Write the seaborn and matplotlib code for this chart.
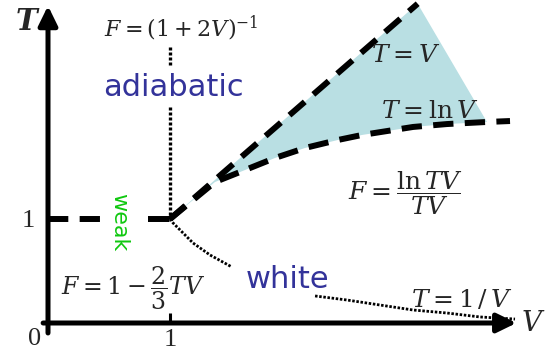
import numpy as np
import pandas as pd
import matplotlib
matplotlib.use("Agg")
import matplotlib.pyplot as plt
import seaborn as sns

# ---- data (schematic, in V / T units) ----
upper_V = [1.0, 3.03]                       # T = V boundary
upper_T = [1.0, 3.07]
lower_V = [1.0, 1.369, 1.615, 1.861, 2.107, 2.377, 2.574, 2.992, 3.270, 3.598, 3.787]   # T = ln V boundary
lower_T = [1.0, 1.356, 1.471, 1.587, 1.683, 1.760, 1.808, 1.885, 1.913, 1.933, 1.942]
inv_V_a = [1.0, 1.025, 1.189, 1.328, 1.508]  # T = 1/V (dotted), part before "white"
inv_T_a = [1.0, 0.962, 0.769, 0.654, 0.538]
inv_V_b = [2.189, 2.451, 2.721, 2.992, 3.270, 3.541, 3.828]
inv_T_b = [0.260, 0.221, 0.173, 0.125, 0.096, 0.058, 0.038]
adiab_T_a = [2.654, 2.481]                   # vertical dotted line V = 1
adiab_T_b = [2.077, 1.0]
weak_V_a = [0.0, 0.45]                       # horizontal dashed line T = 1
weak_V_b = [0.82, 1.0]
fill_corner = (3.598, 1.933)

sns.set_theme(style="white")
plt.rcParams["mathtext.fontset"] = "dejavuserif"
plt.rcParams["font.family"] = ["DejaVu Sans"]

fig = plt.figure(figsize=(5.48, 3.55), dpi=100)
ax = fig.add_axes([0, 0, 1, 1])
ax.set_xlim(-48 / 122, 500 / 122)
ax.set_ylim(-32 / 104, 323 / 104)
ax.axis("off")

# shaded region between T=V and T=lnV
up_pts = np.linspace(upper_V[0], upper_V[1], 20)
poly_x = list(up_pts) + [fill_corner[0]] + lower_V[:10][::-1]
poly_y = list(np.interp(up_pts, upper_V, upper_T)) + [fill_corner[1]] + lower_T[:10][::-1]
ax.fill(poly_x, poly_y, color="#b9dfe3", lw=0, zorder=1)

dash = (0, (3.4, 1.9))
dot = (0, (0.9, 0.6))
common = dict(estimator=None, sort=False, color="black", ax=ax, legend=False)

sns.lineplot(x=upper_V, y=upper_T, lw=4.3, linestyle=dash, zorder=3, **common)
sns.lineplot(x=lower_V, y=lower_T, lw=4.3, linestyle=dash, zorder=3, **common)
sns.lineplot(x=weak_V_a, y=[1, 1], lw=4.3, linestyle=dash, zorder=3, **common)
sns.lineplot(x=weak_V_b, y=[1, 1], lw=4.3, linestyle=(0, (3.6, 1)), zorder=3, **common)
sns.lineplot(x=[1, 1], y=adiab_T_a, lw=2.4, linestyle=dot, zorder=2, **common)
sns.lineplot(x=[1, 1], y=adiab_T_b, lw=2.4, linestyle=dot, zorder=2, **common)
sns.lineplot(x=inv_V_a, y=inv_T_a, lw=2.0, linestyle=dot, zorder=2, **common)
sns.lineplot(x=inv_V_b, y=inv_T_b, lw=2.0, linestyle=dot, zorder=2, **common)

# axes with arrows
arrow = dict(arrowstyle="-|>,head_length=0.45,head_width=0.22",
             lw=3.6, color="black", mutation_scale=26, shrinkA=0, shrinkB=0)
ax.annotate("", xy=(0, 3.05), xytext=(0, -0.096), arrowprops=arrow, zorder=4)
ax.annotate("", xy=(3.84, 0), xytext=(-0.04, 0), arrowprops=arrow, zorder=4)
ax.plot([1, 1], [0, 0.096], color="black", lw=2.2, solid_capstyle="butt", zorder=4)

serif = "Liberation Serif"
ax.text(-0.175, 2.9, "T", fontsize=21, family="DejaVu Serif", style="italic",
        weight="bold", ha="center", va="center")
ax.text(3.975, 0.0, "$V$", fontsize=20, ha="center", va="center")
ax.text(-0.107, -0.15, "0", fontsize=19, family=serif, ha="center", va="center")
ax.text(1.0, -0.16, "1", fontsize=19, family=serif, ha="center", va="center")
ax.text(-0.164, 0.976, "1", fontsize=19, family=serif, ha="center", va="center")

ax.text(1.09, 2.83, "$F=(1+2V)^{-1}$", fontsize=16, ha="center", va="center")
ax.text(1.025, 2.18, "adiabatic", fontsize=22, color="#33339a", ha="center", va="baseline")
ax.text(1.965, 0.336, "white", fontsize=22, color="#33339a", ha="center", va="baseline")
ax.text(0.582, 0.97, "weak", fontsize=16, color="#10c810", rotation=-90,
        ha="center", va="center")
ax.text(2.93, 2.58, "$T=V$", fontsize=18, ha="center", va="center", zorder=5)
ax.text(3.13, 2.04, r"$T=\ln V$", fontsize=18, ha="center", va="center", zorder=5)
ax.text(2.93, 1.25, r"$F=\dfrac{\ln TV}{TV}$", fontsize=18, ha="center", va="center")
ax.text(0.70, 0.33, r"$F=1-\dfrac{2}{3}TV$", fontsize=17, ha="center", va="center")
ax.text(3.39, 0.22, r"$T=1\,/\,V$", fontsize=18, ha="center", va="center")

fig.savefig("out.png", dpi=100)
